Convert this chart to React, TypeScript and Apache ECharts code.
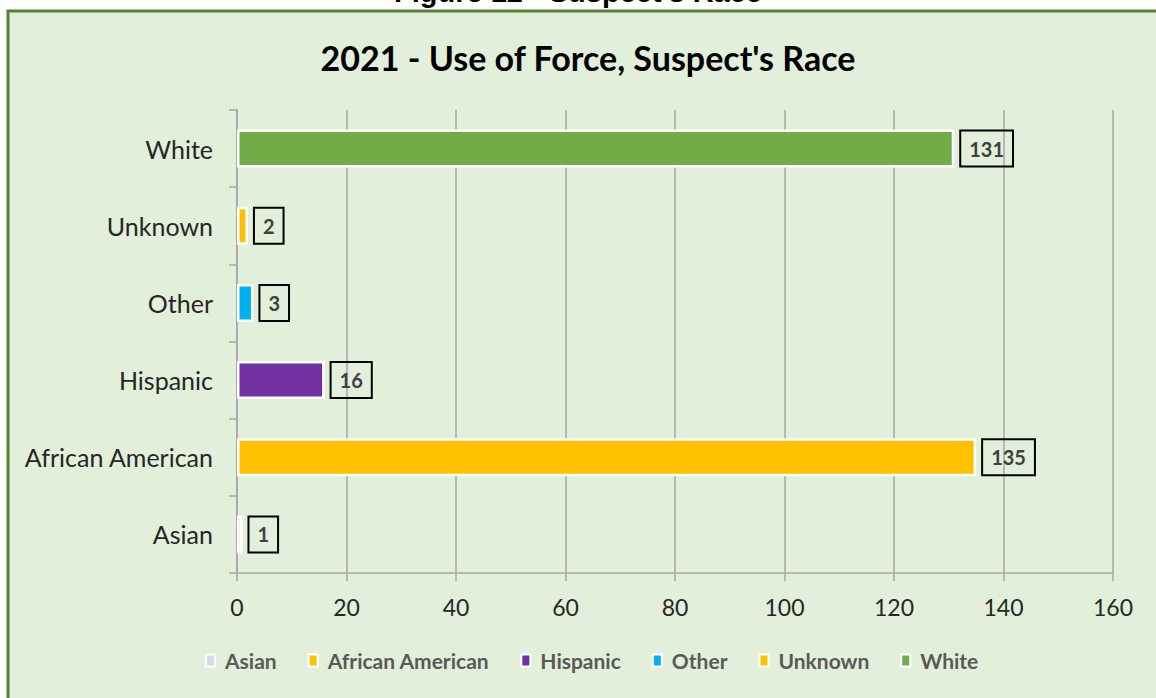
import React, { useEffect, useRef } from "react";
import * as echarts from "echarts";

const categories = ["Asian", "African American", "Hispanic", "Other", "Unknown", "White"];
const seriesNames = ["Asian", "African American", "Hispanic", "Other", "Unknown", "White"];
const values = [1, 135, 16, 3, 2, 131];
const colors = ["#D6DCE5", "#FFC000", "#7030A0", "#00B0F0", "#FFC000", "#70AD47"];
const xTicks = [0, 20, 40, 60, 80, 100, 120, 140, 160];

const FONT = "Lato, 'Open Sans', sans-serif";

export default function App() {
  const ref = useRef<HTMLDivElement>(null);
  useEffect(() => {
    if (!ref.current) return;
    const chart = echarts.init(ref.current, null, { renderer: "svg" });
    const series = seriesNames.map((name, i) => ({
      name,
      type: "bar",
      stack: "all",
      barWidth: 38,
      data: categories.map((c, j) => (j === i ? values[i] : null)),
      itemStyle: { color: colors[i], borderColor: "#ffffff", borderWidth: 2.5 },
      label: {
        show: true,
        position: "right",
        distance: 6,
        formatter: "{c}",
        color: "#404040",
        fontWeight: "bold",
        fontSize: 20,
        fontFamily: FONT,
        borderColor: "#000000",
        borderWidth: 2,
        padding: [9, 9, 7, 9],
      },
    }));
    chart.setOption({
      animation: false,
      backgroundColor: "#ffffff",
      graphic: [
        {
          type: "rect",
          z: -10,
          shape: { x: 8, y: 11, width: 1200, height: 720 },
          style: { fill: "#E2EFDA", stroke: "#548235", lineWidth: 3 },
        },
        {
          type: "text",
          left: "center",
          top: -23,
          style: {
            text: "Figure 12 - Suspect's Race",
            font: "bold 29px 'Liberation Sans', Arial, sans-serif",
            fill: "#000000",
          },
        },
      ],
      title: {
        text: "2021 - Use of Force, Suspect's Race",
        left: 583,
        textAlign: "center",
        top: 35,
        textStyle: { fontFamily: FONT, fontWeight: "bold", fontSize: 34, color: "#000000" },
      },
      legend: {
        data: seriesNames,
        bottom: 22,
        left: 200,
        icon: "rect",
        itemWidth: 9,
        itemHeight: 12,
        itemGap: 31,
        itemStyle: { borderColor: "#ffffff", borderWidth: 2 },
        textStyle: { fontFamily: FONT, fontWeight: "bold", fontSize: 21, color: "#595959", padding: [0, 0, 0, 5] },
      },
      grid: { left: 237, right: 43, top: 110, bottom: 125, containLabel: false },
      xAxis: {
        type: "value",
        min: xTicks[0],
        max: xTicks[xTicks.length - 1],
        interval: 20,
        axisLine: { show: true, lineStyle: { color: "#A6A6A6", width: 1.5 } },
        axisTick: { show: true, length: 8, lineStyle: { color: "#A6A6A6", width: 1.5 } },
        splitLine: { show: true, lineStyle: { color: "#A6A6A6", width: 1.5 } },
        axisLabel: { color: "#262626", fontSize: 23, fontFamily: FONT, margin: 22 },
      },
      yAxis: {
        type: "category",
        data: categories,
        axisLine: { show: true, lineStyle: { color: "#A6A6A6", width: 1.5 } },
        axisTick: { show: true, length: 8, lineStyle: { color: "#A6A6A6", width: 1.5 } },
        axisLabel: { color: "#262626", fontSize: 25, fontFamily: FONT, margin: 24 },
      },
      series,
    });
    return () => chart.dispose();
  }, []);
  return (
    <div
      ref={ref}
      style={{ position: "fixed", left: 0, top: 0, width: 1156, height: 698 }}
    />
  );
}
